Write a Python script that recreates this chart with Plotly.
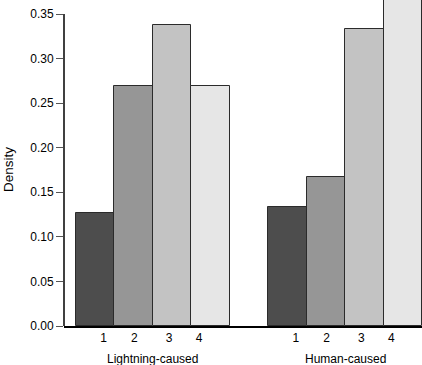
import plotly.graph_objects as go

groups = ["Lightning-caused", "Human-caused"]
classes = ["1", "2", "3", "4"]
lightning = [0.127, 0.269, 0.338, 0.269]
human = [0.134, 0.167, 0.333, 0.366]
y_ticks = [0.00, 0.05, 0.10, 0.15, 0.20, 0.25, 0.30, 0.35]

fills = ["#4D4D4D", "#969696", "#C3C3C3", "#E6E6E6"]
label_shift = [0.22, 0.02, -0.08, -0.3]

fig = go.Figure()
tickvals, ticktext = [], []
for g, (name, vals) in enumerate(zip(groups, [lightning, human])):
    xs = [g * 5 + i + 1 for i in range(len(classes))]
    fig.add_trace(go.Bar(
        x=xs, y=vals, width=1,
        marker=dict(color=fills, line=dict(color="#2b2b2b", width=1)),
        showlegend=False, name=name,
    ))
    for i, c in enumerate(classes):
        tickvals.append(xs[i] + label_shift[i])
        ticktext.append(c)
    fig.add_annotation(
        x=(xs[0] + xs[-1]) / 2, xref="x", y=0, yref="paper",
        yanchor="top", yshift=-24, showarrow=False, text=name,
        font=dict(size=12, color="black"),
    )

fig.add_annotation(
    x=0, xref="paper", y=0.175, yref="y", xshift=-56, textangle=-90,
    xanchor="center", yanchor="middle",
    showarrow=False, text="Density", font=dict(size=13.5, color="black"),
)
# y-axis line from 0 to 0.35
fig.add_shape(type="line", xref="paper", yref="y", x0=0, x1=0,
              y0=y_ticks[0], y1=y_ticks[-1], line=dict(color="black", width=1.5))

fig.update_layout(
    width=422, height=365,
    margin=dict(l=64, r=0, t=0, b=39),
    plot_bgcolor="white", paper_bgcolor="white",
    font=dict(family="Liberation Sans, Arial, sans-serif", size=12, color="black"),
    bargap=0,
    xaxis=dict(range=[0.19, 9.5], tickvals=tickvals, ticktext=ticktext,
               ticks="", showgrid=False, zeroline=False,
               showline=True, linecolor="black", linewidth=1.5,
               tickfont=dict(size=12)),
    yaxis=dict(range=[0, 0.3657], tickvals=y_ticks, tickformat=".2f",
               ticks="outside", ticklen=7, tickcolor="#555", tickwidth=1,
               showgrid=False, zeroline=False, showline=False,
               tickfont=dict(size=12)),
)
fig.write_html("out.html", config={"displayModeBar": False},
               post_script="document.body.style.margin='0';document.body.style.overflow='hidden';")
